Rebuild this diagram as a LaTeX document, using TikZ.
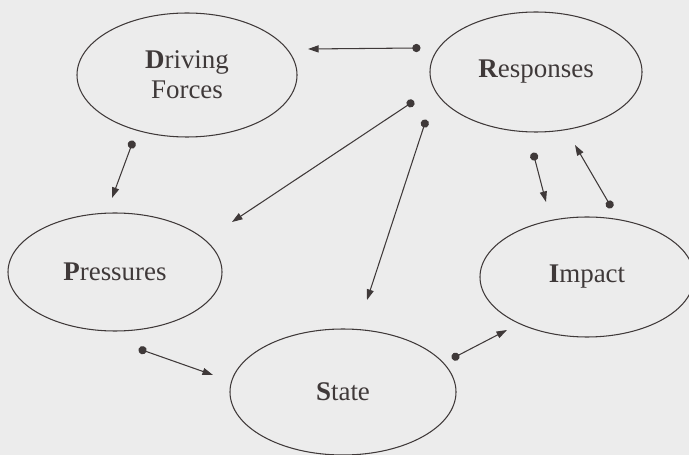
\documentclass[tikz,border=0pt]{standalone}
\usepackage{fontspec}
\setmainfont{Liberation Serif}
\usetikzlibrary{shapes.geometric,arrows.meta}
\definecolor{ink}{HTML}{3F3939}
\definecolor{paper}{HTML}{ECECEC}
\begin{document}
\begin{tikzpicture}[x=0.03cm,y=-0.03cm,
  box/.style={ellipse,draw=ink,line width=0.9pt,inner sep=0pt,text=ink,align=center,
    font=\fontsize{23}{25.5}\selectfont},
  link/.style={ink,line width=0.9pt,shorten <=-3pt,
    {Circle[length=7pt]}-{Triangle[length=9pt,width=6pt]}}]
\useasboundingbox(0,0)rectangle(689,455);
\fill[paper](0,0)rectangle(689,455);
\clip(0,0)rectangle(689,455);
%
\node[box,minimum width=6.6cm,minimum height=3.72cm](drive)at(187,75){\textbf{D}riving\\Forces};
\node[box,minimum width=6.36cm,minimum height=3.6cm](resp)at(536,72){\textbf{R}esponses};
\node[box,minimum width=6.42cm,minimum height=3.54cm](press)at(115,272){\textbf{P}ressures};
\node[box,minimum width=6.42cm,minimum height=3.6cm](impact)at(587,277){\textbf{I}mpact};
\node[box,minimum width=6.78cm,minimum height=3.78cm](state)at(343,392){\textbf{S}tate};
%
\coordinate(rd)at(417,48);\coordinate(dr)at(308,49);
\coordinate(dp)at(132,144);\coordinate(pd)at(112,198);
\coordinate(rp)at(411,103);\coordinate(pr)at(232,222);
\coordinate(rs)at(425,123);\coordinate(sr)at(367,300);
\coordinate(ri)at(534,156);\coordinate(ir)at(546,202);
\coordinate(ir2)at(610,205);\coordinate(ri2)at(575,145);
\coordinate(ps)at(142,350);\coordinate(sp)at(213,375);
\coordinate(si)at(455,357);\coordinate(is)at(507,330);
%
\draw[link](rd)--(dr);
\draw[link](dp)--(pd);
\draw[link](rp)--(pr);
\draw[link](rs)--(sr);
\draw[link](ri)--(ir);
\draw[link](ir2)--(ri2);
\draw[link](ps)--(sp);
\draw[link](si)--(is);
\end{tikzpicture}
\end{document}
